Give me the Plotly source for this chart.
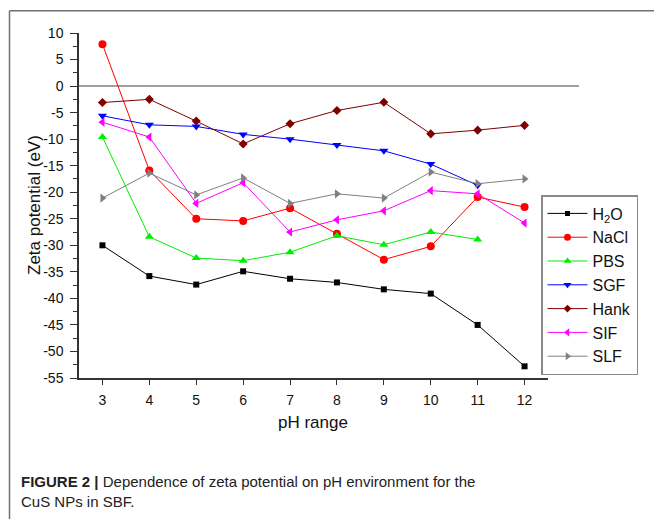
import plotly.graph_objects as go

ph = [3, 4, 5, 6, 7, 8, 9, 10, 11, 12]
x_tick_labels = ["3", "4", "5", "6", "7", "8", "9", "10", "11", "12"]
y_ticks = [10, 5, 0, -5, -10, -15, -20, -25, -30, -35, -40, -45, -50, -55]
y_tick_labels = ["10", "5", "0", "-5", "-10", "-15", "-20", "-25", "-30", "-35",
                 "-40", "-45", "-50", "-55"]

h2o = [-30.0, -35.8, -37.4, -34.9, -36.3, -37.0, -38.3, -39.1, -45.0, -52.8]
nacl = [7.9, -15.9, -25.0, -25.4, -23.0, -27.8, -32.7, -30.2, -20.9, -22.8]
pbs = [-9.6, -28.4, -32.4, -32.9, -31.3, -28.2, -29.9, -27.5, -28.9]
sgf = [-5.6, -7.3, -7.6, -9.1, -10.0, -11.1, -12.2, -14.7, -18.7]
hank = [-3.1, -2.5, -6.6, -10.9, -7.1, -4.6, -3.05, -9.0, -8.3, -7.4]
sif = [-6.8, -9.6, -22.1, -18.2, -27.5, -25.2, -23.5, -19.7, -20.3, -25.8]
slf = [-21.1, -16.4, -20.5, -17.3, -22.1, -20.3, -21.1, -16.2, -18.4, -17.5]

series = [
    ("H<sub>2</sub>O", h2o, "#000000", "square", 6),
    ("NaCl", nacl, "#ff0000", "circle", 8),
    ("PBS", pbs, "#00ee00", "triangle-up", 8),
    ("SGF", sgf, "#0000ff", "triangle-down", 8),
    ("Hank", hank, "#800000", "diamond", 7),
    ("SIF", sif, "#ff00ff", "triangle-left", 8),
    ("SLF", slf, "#808080", "triangle-right", 8),
]

X_RANGE = [2.5, 12.5]
Y_RANGE = [-55, 10]

W, H = 654, 519
L, R, T, B = 79, 106, 33, 141
PW, PH = W - L - R, H - T - B


def px(x):
    return (x - L) / PW


def py(y):
    return (H - B - y) / PH


fig = go.Figure()
for name, vals, color, sym, size in series:
    fig.add_trace(go.Scatter(
        x=ph[:len(vals)], y=vals, name=name, mode="lines+markers",
        line=dict(color=color, width=1),
        marker=dict(symbol=sym, color=color, size=size),
        showlegend=False,
    ))
# legend entries with smaller symbols, as in the reference
for name, vals, color, sym, size in series:
    fig.add_trace(go.Scatter(
        x=[None], y=[None], name=name, mode="lines+markers",
        line=dict(color=color, width=1),
        marker=dict(symbol=sym, color=color, size=size - 1),
        showlegend=True,
    ))

font = "Liberation Sans"
zero_y = (0 - Y_RANGE[0]) / (Y_RANGE[1] - Y_RANGE[0])

shapes = [
    dict(type="line", xref="paper", yref="paper", x0=0, x1=px(579), y0=zero_y, y1=zero_y,
         line=dict(color="#808080", width=1.5), layer="below"),
    dict(type="line", xref="paper", yref="paper", x0=px(9.5), x1=px(660), y0=py(10.7), y1=py(10.7),
         line=dict(color="#707070", width=1.5)),
    dict(type="line", xref="paper", yref="paper", x0=px(9.5), x1=px(9.5), y0=py(10.7), y1=py(530),
         line=dict(color="#707070", width=1.5)),
]

annotations = [
    dict(text="Zeta potential (eV)", xref="paper", yref="paper", x=px(34), y=py(205),
         textangle=-90, showarrow=False, font=dict(family=font, size=17, color="#111"),
         xanchor="center", yanchor="middle"),
    dict(text="pH range", xref="paper", yref="paper", x=px(313), y=py(423),
         showarrow=False, font=dict(family=font, size=17, color="#111"),
         xanchor="center", yanchor="middle"),
    dict(text="<b>FIGURE 2 |</b> Dependence of zeta potential on pH environment for the<br>CuS NPs in SBF.",
         xref="paper", yref="paper", x=px(19), y=py(491), align="left",
         showarrow=False, font=dict(family=font, size=15, color="#222"),
         xanchor="left", yanchor="middle"),
]

fig.update_layout(
    width=W, height=H, margin=dict(l=L, r=R, t=T, b=B),
    paper_bgcolor="white", plot_bgcolor="white",
    font=dict(family=font, size=14, color="#111"),
    showlegend=True,
    legend=dict(x=px(541), y=py(195), xanchor="left", yanchor="top",
                bordercolor="#888", borderwidth=1.5, bgcolor="white",
                font=dict(family=font, size=16, color="#111"),
                tracegroupgap=0, itemwidth=40),
    shapes=shapes, annotations=annotations,
    xaxis=dict(range=X_RANGE, tickmode="array", tickvals=ph, ticktext=x_tick_labels,
               ticks="outside", ticklen=5,
               tickwidth=1.2, tickcolor="#333", showline=True, linecolor="#333", linewidth=1.5,
               showgrid=False, zeroline=False, tickfont=dict(family=font, size=14),
               ticklabelstandoff=3),
    yaxis=dict(range=Y_RANGE, tickmode="array", tickvals=y_ticks, ticktext=y_tick_labels,
               ticks="outside", ticklen=7, tickwidth=1.2,
               tickcolor="#333", showline=True, linecolor="#333", linewidth=1.5,
               showgrid=False, zeroline=False, tickfont=dict(family=font, size=14),
               ticklabelstandoff=4,
               minor=dict(dtick=2.5, tick0=0, ticks="outside", ticklen=4, tickcolor="#333",
                          tickwidth=1)),
)

fig.write_html("out.html")
